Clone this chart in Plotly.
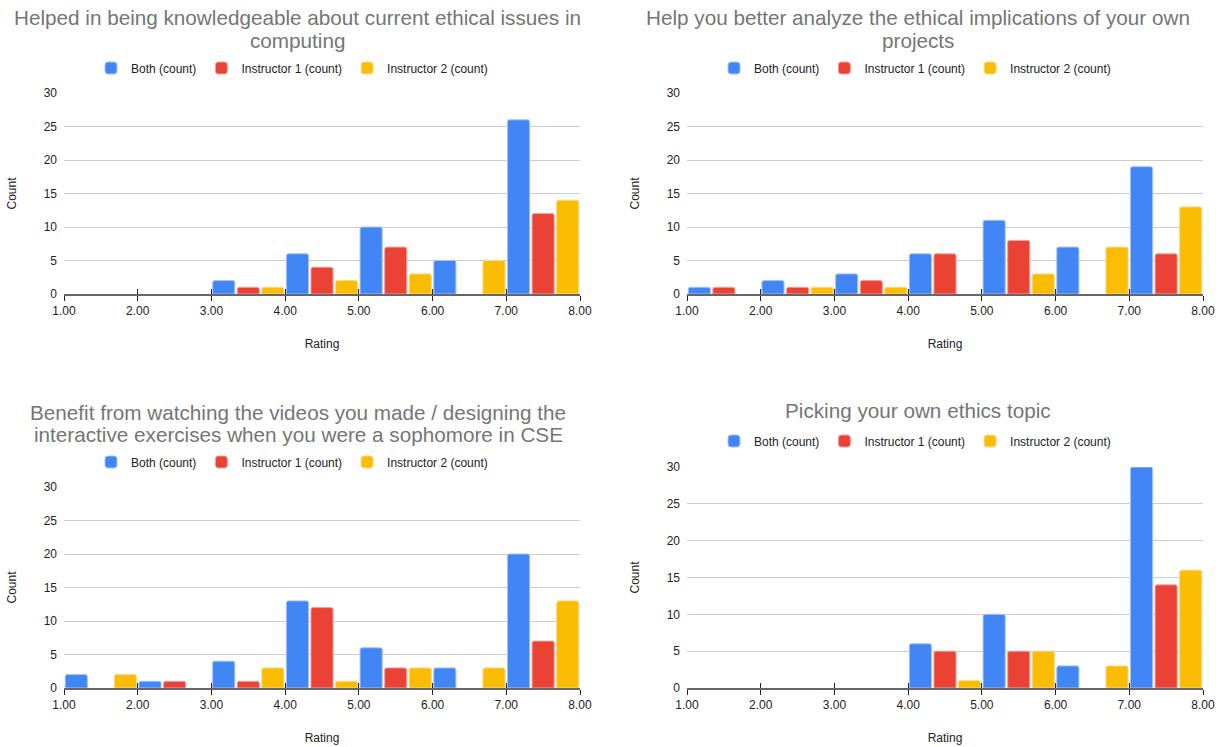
import plotly.graph_objects as go

# ---- data ----
bin_centers = [1.5, 2.5, 3.5, 4.5, 5.5, 6.5, 7.5]
tick_vals = [1, 2, 3, 4, 5, 6, 7, 8]
tick_text = ["1.00", "2.00", "3.00", "4.00", "5.00", "6.00", "7.00", "8.00"]
series_names = ["Both (count)", "Instructor 1 (count)", "Instructor 2 (count)"]

titles = [
    ["Helped in being knowledgeable about current ethical issues in", "computing"],
    ["Help you better analyze the ethical implications of your own", "projects"],
    ["Benefit from watching the videos you made / designing the",
     "interactive exercises when you were a sophomore in CSE"],
    ["Picking your own ethics topic"],
]

p1_both = [0, 0, 2, 6, 10, 5, 26]
p1_instr1 = [0, 0, 1, 4, 7, 0, 12]
p1_instr2 = [0, 0, 1, 2, 3, 5, 14]

p2_both = [1, 2, 3, 6, 11, 7, 19]
p2_instr1 = [1, 1, 2, 6, 8, 0, 6]
p2_instr2 = [0, 1, 1, 0, 3, 7, 13]

p3_both = [2, 1, 4, 13, 6, 3, 20]
p3_instr1 = [0, 1, 1, 12, 3, 0, 7]
p3_instr2 = [2, 0, 3, 1, 3, 3, 13]

p4_both = [0, 0, 0, 6, 10, 3, 30]
p4_instr1 = [0, 0, 0, 5, 5, 0, 14]
p4_instr2 = [0, 0, 0, 1, 5, 3, 16]

panels = [
    [p1_both, p1_instr1, p1_instr2],
    [p2_both, p2_instr1, p2_instr2],
    [p3_both, p3_instr1, p3_instr2],
    [p4_both, p4_instr1, p4_instr2],
]

# ---- styling ----
W, H = 1225, 747
colors = ["#4285F4", "#EA4335", "#FBBC04"]
edge = ["#9fc2fb", "#f4a19a", "#fdd982"]
FONT = "Arial, Liberation Sans, sans-serif"


def px_x(p):
    return p / W


def px_y(p):
    return 1 - p / H


# pixel geometry of each panel: (x_left, x_right, y_top(30), y_bottom(0))
geom = [
    (64, 580, 93, 294),
    (687, 1203, 93, 294),
    (64, 580, 487, 688),
    (687, 1203, 467, 688),
]
title_lines_y = [[18, 40], [18, 40], [412, 434], [411]]
title_cx = [297, 918, 298, 918]
legend_y = [68, 68, 462, 441]
legend_cx = [292, 915, 292, 915]

fig = go.Figure()
layout = dict(
    template="none",
    width=W, height=H,
    margin=dict(l=0, r=0, t=0, b=0, autoexpand=False),
    paper_bgcolor="white", plot_bgcolor="white",
    font=dict(family=FONT, size=12, color="#222222"),
    barmode="group", bargap=0.0, bargroupgap=0.1,
    barcornerradius=2,
    annotations=[],
)

for i, series in enumerate(panels):
    k = i + 1
    xa = "x" if k == 1 else f"x{k}"
    ya = "y" if k == 1 else f"y{k}"
    lg = "legend" if k == 1 else f"legend{k}"
    for j, vals in enumerate(series):
        fig.add_trace(go.Bar(
            x=bin_centers, y=[v if v else None for v in vals], name=series_names[j],
            marker=dict(color=colors[j], line=dict(color=edge[j], width=1)),
            xaxis=xa, yaxis=ya, legend=lg, hoverinfo="x+y+name",
        ))
    # invisible trace so the overlay tick axis (upward tick marks) is drawn
    fig.add_trace(go.Scatter(x=[None], y=[None], xaxis=f"x{k+4}", yaxis=ya,
                             showlegend=False, hoverinfo="skip"))

    xl, xr, yt, yb = geom[i]
    xkey = "xaxis" if k == 1 else f"xaxis{k}"
    ykey = "yaxis" if k == 1 else f"yaxis{k}"
    layout[xkey] = dict(
        domain=[px_x(xl), px_x(xr)], anchor=ya, range=[1, 8],
        tickmode="array", tickvals=tick_vals, ticktext=tick_text, automargin=False,
        showgrid=False, zeroline=False,
        showline=True, linecolor="#666666", linewidth=1.5,
        ticks="outside", ticklen=5, tickcolor="#222222", tickwidth=1.2,
        tickfont=dict(size=12, color="#222222"),
        title=dict(text="Rating", font=dict(size=12, color="#222222"), standoff=22),
        fixedrange=True,
    )
    layout[f"xaxis{k+4}"] = dict(
        overlaying=xa, anchor=ya, range=[1, 8], tickmode="array", tickvals=tick_vals,
        showticklabels=False, showgrid=False, zeroline=False, showline=False,
        ticks="inside", ticklen=5, tickcolor="#222222", tickwidth=1.2,
        automargin=False, fixedrange=True,
    )
    layout[ykey] = dict(
        domain=[px_y(yb), px_y(yt)], anchor=xa, range=[0, 30],
        tickvals=[0, 5, 10, 15, 20, 25, 30], automargin=False,
        showgrid=True, gridcolor="#cccccc", gridwidth=1,
        zeroline=False, showline=False, ticks="",
        tickfont=dict(size=12, color="#222222"), ticklabelstandoff=6,
        title=dict(text="Count", font=dict(size=12, color="#222222"), standoff=24),
        fixedrange=True,
    )
    layout[lg] = dict(
        orientation="h", x=px_x(legend_cx[i]), xanchor="center",
        y=px_y(legend_y[i]), yanchor="middle",
        font=dict(size=12, color="#222222"), bgcolor="rgba(0,0,0,0)",
        itemclick=False, itemdoubleclick=False,
    )
    for line, ly in zip(titles[i], title_lines_y[i]):
        layout["annotations"].append(dict(
            text=line, x=px_x(title_cx[i]), y=px_y(ly), xref="paper", yref="paper",
            xanchor="center", yanchor="middle", showarrow=False,
            font=dict(size=20.7, color="#757575", family=FONT),
        ))

fig.update_layout(**layout)
fig.write_html("out.html")
